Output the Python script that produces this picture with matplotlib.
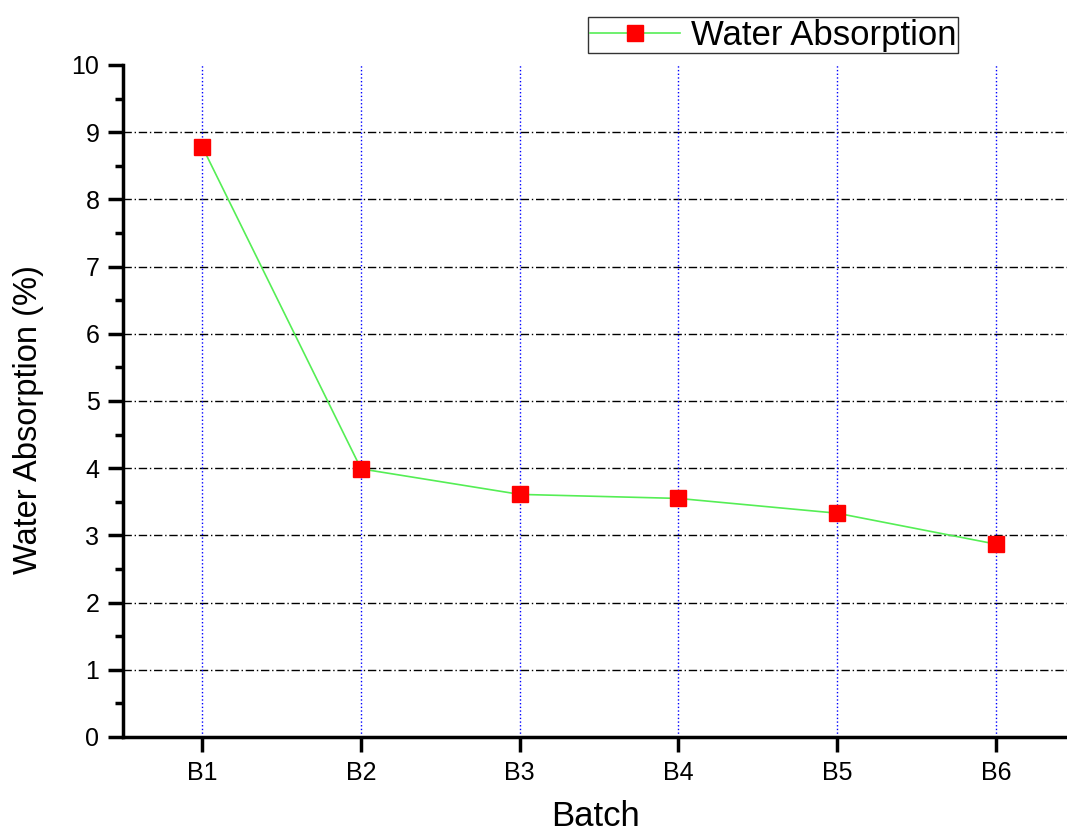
import matplotlib.pyplot as plt

batches = ["B1", "B2", "B3", "B4", "B5", "B6"]
water_absorption = [8.78, 3.99, 3.61, 3.55, 3.33, 2.87]

plt.rcParams['font.family'] = ['Liberation Sans', 'DejaVu Sans']

fig = plt.figure(figsize=(10.67, 8.32), dpi=100)
ax = fig.add_axes([0.1153, 0.1142, 0.885, 0.8077])

xs = list(range(1, len(batches) + 1))
ax.plot(xs, water_absorption, color='#55ee55', lw=1.2, marker='s',
        markersize=12, markerfacecolor='red', markeredgecolor='red',
        label='Water Absorption', zorder=3)

# grid lines
for y in range(1, 10):
    ax.axhline(y, color='black', lw=1.0, ls='-.', dashes=(6, 2, 1, 2), zorder=1)
for x in xs:
    ax.axvline(x, color='blue', lw=1.0, ls=':', zorder=1)

ax.set_xlim(0.5, 6.45)
ax.set_ylim(0, 10)
ax.set_xticks(xs)
ax.set_xticklabels(batches)
ax.set_yticks(range(0, 11))
ax.set_yticks([i + 0.5 for i in range(10)], minor=True)

for side in ['top', 'right']:
    ax.spines[side].set_visible(False)
for side in ['left', 'bottom']:
    ax.spines[side].set_linewidth(2.5)

ax.tick_params(axis='both', which='major', direction='out', length=11, width=2.5,
               labelsize=18, pad=6)
ax.tick_params(axis='y', which='minor', direction='out', length=6, width=2.5)

ax.set_xlabel("Batch", fontsize=25, va='center')
ax.xaxis.set_label_coords(0.5, -0.119)
ax.set_ylabel("Water Absorption (%)", fontsize=23.5, va='center')
ax.yaxis.set_label_coords(-0.1, 0.472)

leg = ax.legend(loc='upper left', bbox_to_anchor=(0.4926, 1.0714), fontsize=25,
                frameon=True, fancybox=False, edgecolor='black',
                borderpad=0.05, borderaxespad=0, handlelength=2.6,
                handletextpad=0.3)
leg.get_frame().set_linewidth(1.0)

fig.savefig("out.png", dpi=100)
